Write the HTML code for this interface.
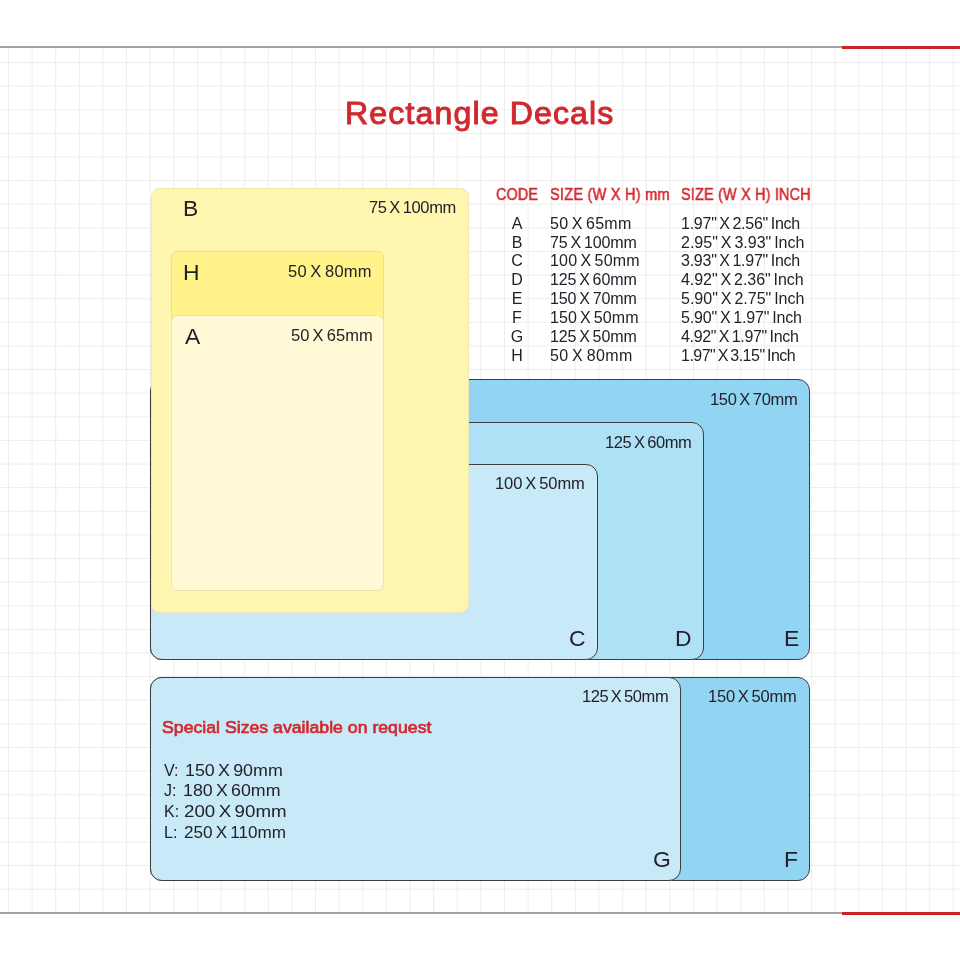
<!DOCTYPE html><html><head><meta charset="utf-8"><style>
html,body{margin:0;padding:0;background:#fff;}
body{width:960px;height:960px;position:relative;overflow:hidden;font-family:"Liberation Sans",sans-serif;color:#24212b;}
.abs{position:absolute;}
.line{position:absolute;height:2px;}
.box{position:absolute;box-sizing:border-box;border-radius:12px;}
.blue{border:1.3px solid #403d3d;}
.t{position:absolute;white-space:pre;line-height:1;will-change:transform;}
.ws{word-spacing:-1.5px;}

</style></head><body>
<svg class="abs" style="left:0;top:0" width="960" height="960" stroke="#ededed" stroke-width="1"><line x1="8.50" y1="48" x2="8.50" y2="912"/><line x1="32.12" y1="48" x2="32.12" y2="912"/><line x1="55.74" y1="48" x2="55.74" y2="912"/><line x1="79.36" y1="48" x2="79.36" y2="912"/><line x1="102.98" y1="48" x2="102.98" y2="912"/><line x1="126.60" y1="48" x2="126.60" y2="912"/><line x1="150.22" y1="48" x2="150.22" y2="912"/><line x1="173.84" y1="48" x2="173.84" y2="912"/><line x1="197.46" y1="48" x2="197.46" y2="912"/><line x1="221.08" y1="48" x2="221.08" y2="912"/><line x1="244.70" y1="48" x2="244.70" y2="912"/><line x1="268.32" y1="48" x2="268.32" y2="912"/><line x1="291.94" y1="48" x2="291.94" y2="912"/><line x1="315.56" y1="48" x2="315.56" y2="912"/><line x1="339.18" y1="48" x2="339.18" y2="912"/><line x1="362.80" y1="48" x2="362.80" y2="912"/><line x1="386.42" y1="48" x2="386.42" y2="912"/><line x1="410.04" y1="48" x2="410.04" y2="912"/><line x1="433.66" y1="48" x2="433.66" y2="912"/><line x1="457.28" y1="48" x2="457.28" y2="912"/><line x1="480.90" y1="48" x2="480.90" y2="912"/><line x1="504.52" y1="48" x2="504.52" y2="912"/><line x1="528.14" y1="48" x2="528.14" y2="912"/><line x1="551.76" y1="48" x2="551.76" y2="912"/><line x1="575.38" y1="48" x2="575.38" y2="912"/><line x1="599.00" y1="48" x2="599.00" y2="912"/><line x1="622.62" y1="48" x2="622.62" y2="912"/><line x1="646.24" y1="48" x2="646.24" y2="912"/><line x1="669.86" y1="48" x2="669.86" y2="912"/><line x1="693.48" y1="48" x2="693.48" y2="912"/><line x1="717.10" y1="48" x2="717.10" y2="912"/><line x1="740.72" y1="48" x2="740.72" y2="912"/><line x1="764.34" y1="48" x2="764.34" y2="912"/><line x1="787.96" y1="48" x2="787.96" y2="912"/><line x1="811.58" y1="48" x2="811.58" y2="912"/><line x1="835.20" y1="48" x2="835.20" y2="912"/><line x1="858.82" y1="48" x2="858.82" y2="912"/><line x1="882.44" y1="48" x2="882.44" y2="912"/><line x1="906.06" y1="48" x2="906.06" y2="912"/><line x1="929.68" y1="48" x2="929.68" y2="912"/><line x1="953.30" y1="48" x2="953.30" y2="912"/><line x1="0" y1="62.50" x2="960" y2="62.50"/><line x1="0" y1="86.12" x2="960" y2="86.12"/><line x1="0" y1="109.74" x2="960" y2="109.74"/><line x1="0" y1="133.36" x2="960" y2="133.36"/><line x1="0" y1="156.98" x2="960" y2="156.98"/><line x1="0" y1="180.60" x2="960" y2="180.60"/><line x1="0" y1="204.22" x2="960" y2="204.22"/><line x1="0" y1="227.84" x2="960" y2="227.84"/><line x1="0" y1="251.46" x2="960" y2="251.46"/><line x1="0" y1="275.08" x2="960" y2="275.08"/><line x1="0" y1="298.70" x2="960" y2="298.70"/><line x1="0" y1="322.32" x2="960" y2="322.32"/><line x1="0" y1="345.94" x2="960" y2="345.94"/><line x1="0" y1="369.56" x2="960" y2="369.56"/><line x1="0" y1="393.18" x2="960" y2="393.18"/><line x1="0" y1="416.80" x2="960" y2="416.80"/><line x1="0" y1="440.42" x2="960" y2="440.42"/><line x1="0" y1="464.04" x2="960" y2="464.04"/><line x1="0" y1="487.66" x2="960" y2="487.66"/><line x1="0" y1="511.28" x2="960" y2="511.28"/><line x1="0" y1="534.90" x2="960" y2="534.90"/><line x1="0" y1="558.52" x2="960" y2="558.52"/><line x1="0" y1="582.14" x2="960" y2="582.14"/><line x1="0" y1="605.76" x2="960" y2="605.76"/><line x1="0" y1="629.38" x2="960" y2="629.38"/><line x1="0" y1="653.00" x2="960" y2="653.00"/><line x1="0" y1="676.62" x2="960" y2="676.62"/><line x1="0" y1="700.24" x2="960" y2="700.24"/><line x1="0" y1="723.86" x2="960" y2="723.86"/><line x1="0" y1="747.48" x2="960" y2="747.48"/><line x1="0" y1="771.10" x2="960" y2="771.10"/><line x1="0" y1="794.72" x2="960" y2="794.72"/><line x1="0" y1="818.34" x2="960" y2="818.34"/><line x1="0" y1="841.96" x2="960" y2="841.96"/><line x1="0" y1="865.58" x2="960" y2="865.58"/><line x1="0" y1="889.20" x2="960" y2="889.20"/></svg>
<div class="line" style="left:0;top:46px;width:842px;background:#a0a2a4"></div>
<div class="line" style="left:842px;top:46px;width:118px;height:2.5px;background:#cd2128"></div>
<div class="line" style="left:0;top:912px;width:842px;background:#a0a2a4"></div>
<div class="line" style="left:842px;top:912px;width:118px;height:2.5px;background:#cd2128"></div>
<div class="box blue" style="left:150px;top:379px;width:660px;height:281px;background:#92d5f3"></div>
<div class="box blue" style="left:150px;top:421.5px;width:554px;height:238.5px;background:#aee0f6"></div>
<div class="box blue" style="left:150px;top:464px;width:447.5px;height:196px;background:#c8e9f8"></div>
<div class="box" style="left:150.5px;top:188px;width:318.3px;height:424.5px;background:#fff7b0;border:1px solid #efe6b0;border-radius:8.5px"></div>
<div class="box" style="left:171px;top:250.7px;width:213.3px;height:100px;background:#fff389;border:1px solid #e9df95;border-radius:6.5px"></div>
<div class="box" style="left:171px;top:314.8px;width:213.3px;height:276.7px;background:#fff9d6;border:1px solid #ebe2ae;border-radius:6.5px"></div>
<div class="box blue" style="left:150px;top:677px;width:660px;height:204px;background:#92d5f3"></div>
<div class="box blue" style="left:150px;top:677px;width:531px;height:204px;background:#c8e9f8"></div>

<div class="t" style="left:344.80px;top:97.00px;font-size:32.1px;font-weight:400;color:#d0292f;letter-spacing:1.129px;-webkit-text-stroke:1px currentColor;">Rectangle Decals</div>
<div class="t" style="left:495.92px;top:187.30px;font-size:16px;font-weight:400;color:#d0292f;letter-spacing:0.200px;-webkit-text-stroke:0.5px currentColor;transform:scaleX(0.8930);transform-origin:0 0;">CODE</div>
<div class="t" style="left:549.52px;top:187.30px;font-size:16px;font-weight:400;color:#d0292f;letter-spacing:0.200px;-webkit-text-stroke:0.5px currentColor;transform:scaleX(0.9139);transform-origin:0 0;">SIZE (W X H) mm</div>
<div class="t" style="left:680.98px;top:187.30px;font-size:16px;font-weight:400;color:#d0292f;letter-spacing:0.200px;-webkit-text-stroke:0.5px currentColor;transform:scaleX(0.9030);transform-origin:0 0;">SIZE (W X H) INCH</div>
<div class="t" style="left:495.50px;top:215.84px;width:42px;text-align:center;font-size:16px;font-weight:400;color:#24212b;letter-spacing:0.000px;">A</div>
<div class="t" style="left:495.50px;top:234.65px;width:42px;text-align:center;font-size:16px;font-weight:400;color:#24212b;letter-spacing:0.000px;">B</div>
<div class="t" style="left:495.50px;top:253.46px;width:42px;text-align:center;font-size:16px;font-weight:400;color:#24212b;letter-spacing:0.000px;">C</div>
<div class="t" style="left:495.50px;top:272.27px;width:42px;text-align:center;font-size:16px;font-weight:400;color:#24212b;letter-spacing:0.000px;">D</div>
<div class="t" style="left:495.50px;top:291.08px;width:42px;text-align:center;font-size:16px;font-weight:400;color:#24212b;letter-spacing:0.000px;">E</div>
<div class="t" style="left:495.50px;top:309.89px;width:42px;text-align:center;font-size:16px;font-weight:400;color:#24212b;letter-spacing:0.000px;">F</div>
<div class="t" style="left:495.50px;top:328.70px;width:42px;text-align:center;font-size:16px;font-weight:400;color:#24212b;letter-spacing:0.000px;">G</div>
<div class="t" style="left:495.50px;top:347.51px;width:42px;text-align:center;font-size:16px;font-weight:400;color:#24212b;letter-spacing:0.000px;">H</div>
<div class="t ws" style="left:549.96px;top:215.84px;font-size:16px;font-weight:400;color:#24212b;letter-spacing:0.315px;">50 X 65mm</div>
<div class="t ws" style="left:681.00px;top:215.84px;font-size:16px;font-weight:400;color:#24212b;letter-spacing:-0.247px;">1.97" X 2.56" Inch</div>
<div class="t ws" style="left:549.96px;top:234.65px;font-size:16px;font-weight:400;color:#24212b;letter-spacing:-0.093px;">75 X 100mm</div>
<div class="t ws" style="left:681.00px;top:234.65px;font-size:16px;font-weight:400;color:#24212b;letter-spacing:-0.000px;">2.95" X 3.93" Inch</div>
<div class="t ws" style="left:549.96px;top:253.46px;font-size:16px;font-weight:400;color:#24212b;letter-spacing:0.218px;">100 X 50mm</div>
<div class="t ws" style="left:681.00px;top:253.46px;font-size:16px;font-weight:400;color:#24212b;letter-spacing:-0.247px;">3.93" X 1.97" Inch</div>
<div class="t ws" style="left:549.96px;top:272.27px;font-size:16px;font-weight:400;color:#24212b;letter-spacing:-0.109px;">125 X 60mm</div>
<div class="t ws" style="left:681.00px;top:272.27px;font-size:16px;font-weight:400;color:#24212b;letter-spacing:-0.041px;">4.92" X 2.36" Inch</div>
<div class="t ws" style="left:549.96px;top:291.08px;font-size:16px;font-weight:400;color:#24212b;letter-spacing:-0.093px;">150 X 70mm</div>
<div class="t ws" style="left:681.00px;top:291.08px;font-size:16px;font-weight:400;color:#24212b;letter-spacing:-0.000px;">5.90" X 2.75" Inch</div>
<div class="t ws" style="left:549.96px;top:309.89px;font-size:16px;font-weight:400;color:#24212b;letter-spacing:0.093px;">150 X 50mm</div>
<div class="t ws" style="left:681.00px;top:309.89px;font-size:16px;font-weight:400;color:#24212b;letter-spacing:-0.140px;">5.90" X 1.97" Inch</div>
<div class="t ws" style="left:549.96px;top:328.70px;font-size:16px;font-weight:400;color:#24212b;letter-spacing:-0.109px;">125 X 50mm</div>
<div class="t ws" style="left:681.00px;top:328.70px;font-size:16px;font-weight:400;color:#24212b;letter-spacing:-0.329px;">4.92" X 1.97" Inch</div>
<div class="t ws" style="left:549.96px;top:347.51px;font-size:16px;font-weight:400;color:#24212b;letter-spacing:0.455px;">50 X 80mm</div>
<div class="t ws" style="left:681.00px;top:347.51px;font-size:16px;font-weight:400;color:#24212b;letter-spacing:-0.511px;">1.97" X 3.15" Inch</div>
<div class="t" style="left:182.68px;top:197.32px;font-size:22.9px;font-weight:400;color:#24212b;letter-spacing:0.000px;">B</div>
<div class="t" style="left:183.30px;top:261.40px;font-size:22.9px;font-weight:400;color:#24212b;letter-spacing:0.000px;">H</div>
<div class="t" style="left:184.80px;top:325.25px;font-size:22.9px;font-weight:400;color:#24212b;letter-spacing:0.000px;">A</div>
<div class="t ws" style="left:369.42px;top:199.06px;font-size:16.5px;font-weight:400;color:#24212b;letter-spacing:-0.358px;">75 X 100mm</div>
<div class="t ws" style="left:288.46px;top:263.06px;font-size:16.5px;font-weight:400;color:#24212b;letter-spacing:0.280px;">50 X 80mm</div>
<div class="t ws" style="left:290.58px;top:326.64px;font-size:16.5px;font-weight:400;color:#24212b;letter-spacing:0.052px;">50 X 65mm</div>
<div class="t ws" style="left:710.25px;top:390.98px;font-size:16.5px;font-weight:400;color:#24212b;letter-spacing:-0.311px;">150 X 70mm</div>
<div class="t ws" style="left:604.54px;top:433.64px;font-size:16.5px;font-weight:400;color:#24212b;letter-spacing:-0.420px;">125 X 60mm</div>
<div class="t ws" style="left:495.00px;top:475.44px;font-size:16.5px;font-weight:400;color:#24212b;letter-spacing:-0.078px;">100 X 50mm</div>
<div class="t" style="left:569.46px;top:626.86px;font-size:22.9px;font-weight:400;color:#24212b;letter-spacing:0.000px;">C</div>
<div class="t" style="left:675.30px;top:626.86px;font-size:22.9px;font-weight:400;color:#24212b;letter-spacing:0.000px;">D</div>
<div class="t" style="left:783.80px;top:626.86px;font-size:22.9px;font-weight:400;color:#24212b;letter-spacing:0.000px;">E</div>
<div class="t ws" style="left:582.00px;top:688.44px;font-size:16.5px;font-weight:400;color:#24212b;letter-spacing:-0.436px;">125 X 50mm</div>
<div class="t ws" style="left:708.38px;top:688.44px;font-size:16.5px;font-weight:400;color:#24212b;letter-spacing:-0.187px;">150 X 50mm</div>
<div class="t" style="left:652.54px;top:847.86px;font-size:22.9px;font-weight:400;color:#24212b;letter-spacing:0.000px;">G</div>
<div class="t" style="left:784.22px;top:847.86px;font-size:22.9px;font-weight:400;color:#24212b;letter-spacing:0.000px;">F</div>
<div class="t" style="left:162.46px;top:719.48px;font-size:16.3px;font-weight:400;color:#d0292f;letter-spacing:0.000px;-webkit-text-stroke:0.65px currentColor;transform:scaleX(1.0863);transform-origin:0 0;">Special Sizes available on request</div>
<div class="t" style="left:163.70px;top:762.64px;font-size:16px;font-weight:400;color:#24212b;letter-spacing:0.000px;">V:</div>
<div class="t ws" style="left:184.80px;top:762.64px;font-size:16px;font-weight:400;color:#24212b;letter-spacing:0.000px;transform:scaleX(1.1142);transform-origin:0 0;">150 X 90mm</div>
<div class="t" style="left:163.70px;top:783.47px;font-size:16px;font-weight:400;color:#24212b;letter-spacing:0.000px;">J:</div>
<div class="t ws" style="left:183.35px;top:783.47px;font-size:16px;font-weight:400;color:#24212b;letter-spacing:0.000px;transform:scaleX(1.1113);transform-origin:0 0;">180 X 60mm</div>
<div class="t" style="left:163.70px;top:804.30px;font-size:16px;font-weight:400;color:#24212b;letter-spacing:0.000px;">K:</div>
<div class="t ws" style="left:184.00px;top:804.30px;font-size:16px;font-weight:400;color:#24212b;letter-spacing:0.000px;transform:scaleX(1.1691);transform-origin:0 0;">200 X 90mm</div>
<div class="t" style="left:163.70px;top:825.13px;font-size:16px;font-weight:400;color:#24212b;letter-spacing:0.000px;">L:</div>
<div class="t ws" style="left:184.00px;top:825.13px;font-size:16px;font-weight:400;color:#24212b;letter-spacing:0.000px;transform:scaleX(1.0679);transform-origin:0 0;">250 X 110mm</div>
</body></html>
